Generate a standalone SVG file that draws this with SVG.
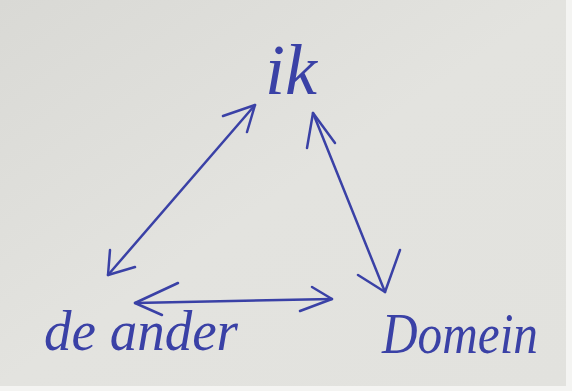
<svg xmlns="http://www.w3.org/2000/svg" width="572" height="391" viewBox="0 0 572 391">
<style>
.ink{fill:none;stroke:#3a41a6;stroke-width:2.5;stroke-linecap:round;stroke-linejoin:round}
.lbl{font-family:"Liberation Serif","DejaVu Serif",serif;font-style:italic;fill:#3a41a6}
</style>
<defs>
<linearGradient id="paper" x1="0" y1="0" x2="1" y2="1">
<stop offset="0" stop-color="#d9d9d5"/>
<stop offset="0.5" stop-color="#e3e3df"/>
<stop offset="1" stop-color="#e2e2de"/>
</linearGradient>
</defs>
<rect x="0" y="0" width="572" height="391" fill="#f4f4f2"/>
<rect x="0" y="0" width="566" height="386" fill="url(#paper)"/>
<g id="node-ik"><text class="lbl" x="265" y="94" font-size="72">ik</text></g>
<g id="node-de-ander"><text class="lbl" x="44" y="350" font-size="58" textLength="194" lengthAdjust="spacingAndGlyphs">de ander</text></g>
<g id="node-domein"><text class="lbl" x="382" y="353" font-size="58" textLength="156" lengthAdjust="spacingAndGlyphs">Domein</text></g>
<g id="connectors">
<g id="ik-deander">
<path class="ink" d="M255,105 L108,275"/>
<path class="ink" d="M223,116 L255,105 L247,132"/>
<path class="ink" d="M110,250 L108,275 L135,267"/>
</g>
<g id="ik-domein">
<path class="ink" d="M313,113 L385,292"/>
<path class="ink" d="M307,148 L313,113 L335,143"/>
<path class="ink" d="M400,250 L385,292 L358,275"/>
</g>
<g id="deander-domein">
<path class="ink" d="M135,303 L332,299"/>
<path class="ink" d="M178,283 L135,303 L162,315"/>
<path class="ink" d="M312,287 L332,299 L300,311"/>
</g>
</g>
</svg>
